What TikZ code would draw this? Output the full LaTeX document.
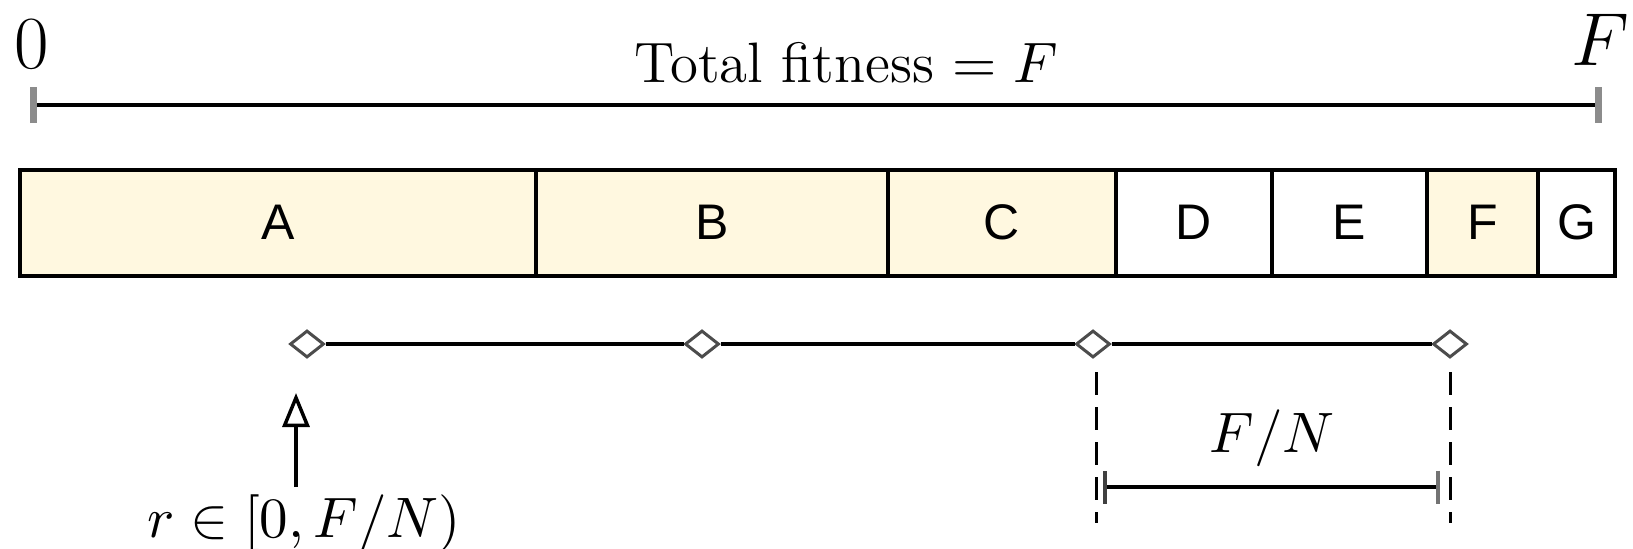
\RequirePackage{fix-cm}
\documentclass[tikz,border=0pt]{standalone}
\usepackage{fontspec}
\newfontfamily\boxfont{Liberation Sans}
\usetikzlibrary{arrows.meta,shapes.geometric}
\definecolor{cellfill}{RGB}{255,248,224}
\begin{document}
\begin{tikzpicture}[x=0.2pt,y=-0.2pt,
  cell/.style={draw, line width=0.8pt, minimum height=21.1pt, inner sep=0pt, font=\boxfont\fontsize{10}{12}\selectfont},
  filled/.style={cell, fill=cellfill},
  lbl/.style={font=\fontsize{11.4}{14}\selectfont, inner sep=0pt, anchor=base},
  big/.style={font=\fontsize{15}{18}\selectfont, inner sep=0pt, anchor=base},
  dmd/.style={diamond, draw=black!70, line width=0.6pt, fill=white, inner sep=0pt, minimum width=6.8pt, minimum height=5.4pt},
  link/.style={line width=0.8pt},
  guide/.style={dash pattern=on 4.6pt off 2.4pt, line width=0.6pt}]
\useasboundingbox (0,0) rectangle (1633,548);
% cells
\node[filled, minimum width=103.1pt] (A) at (278.25,222.75) {A};
\node[filled, minimum width=70.4pt] (B) at (712,222.75) {B};
\node[filled, minimum width=45.6pt] (C) at (1002,222.75) {C};
\node[cell, minimum width=31.2pt] (D) at (1194,222.75) {D};
\node[cell, minimum width=31pt] (E) at (1349.5,222.75) {E};
\node[filled, minimum width=22.2pt] (F) at (1482.5,222.75) {F};
\node[cell, minimum width=15.4pt] (G) at (1576.5,222.75) {G};
% top scale
\coordinate (t0) at (30,105);
\coordinate (t1) at (1602,105);
\draw[link, {Bar[width=7.2pt, line width=1.4pt, color=black!45]}-{Bar[width=7.2pt, line width=1.4pt, color=black!45]}] (t0) -- (t1);
\node[big] (zero) at (32,68) {0};
\node[big] (Fend) at (1600,65) {$F$};
\node[lbl] (total) at (846,82) {Total fitness $=F$};
% pointers
\node[dmd] (d1) at (307,344) {};
\node[dmd] (d2) at (702,344) {};
\node[dmd] (d3) at (1093,344) {};
\node[dmd] (d4) at (1450,344) {};
\draw[link] (d1) -- (d2) (d2) -- (d3) (d3) -- (d4);
% random start
\node[lbl] (r) at (304,537) {$r\in[0,F/N)$};
\coordinate (rtip) at (296,393);
\coordinate (rtail) at (296,487);
\draw[line width=0.7pt, -{Triangle[open, length=6.8pt, width=5.4pt]}] (rtail) -- (rtip);
% spacing
\coordinate (g1a) at (1096,372);
\coordinate (g1b) at (1096,523);
\coordinate (g2a) at (1450,372);
\coordinate (g2b) at (1450,523);
\draw[guide] (g1a) -- (g1b);
\draw[guide] (g2a) -- (g2b);
\coordinate (m1) at (1103,487);
\coordinate (m2) at (1440,487);
\draw[link, {Bar[width=6.6pt, color=black!75]}-{Bar[width=6.6pt, color=black!55]}] (m1) -- (m2);
\node[lbl] (fn) at (1272,452) {$F/N$};
\end{tikzpicture}
\end{document}
